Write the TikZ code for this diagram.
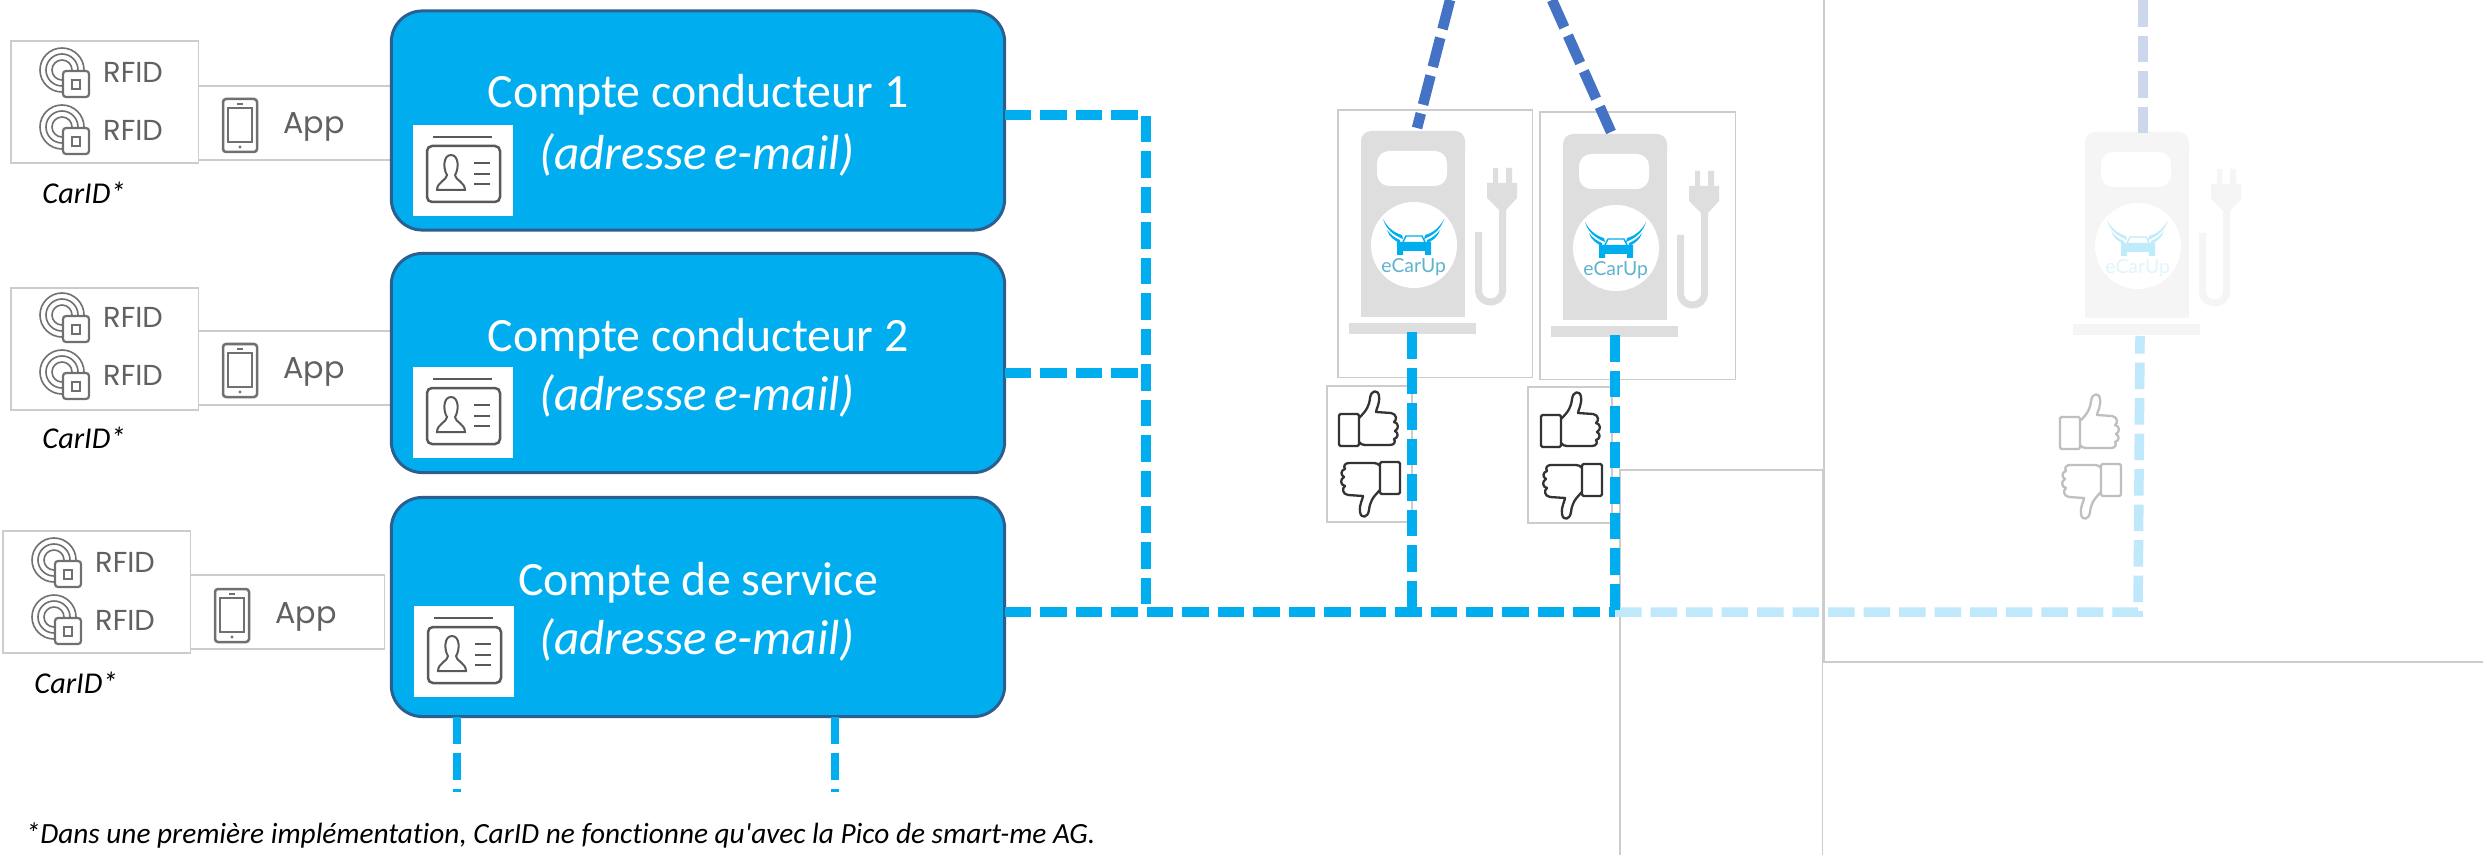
\documentclass[tikz,border=0pt]{standalone}
\usepackage{fontspec}
\setmainfont{Carlito}
\newfontfamily\calfont{Carlito}[Ligatures=NoCommon]
\newfontfamily\iconfont{Poppins}
\newfontfamily\logofont{Lato}
\definecolor{acct}{HTML}{00AEEF}
\definecolor{acctedge}{HTML}{2C5F8F}
\definecolor{framegray}{HTML}{CCCCCC}
\definecolor{linelight}{HTML}{BFE8FB}
\definecolor{dark}{HTML}{4472C4}
\definecolor{darklight}{HTML}{CCD7EE}
\definecolor{icongray}{HTML}{707070}
\definecolor{logoteal}{HTML}{5FB3CE}
\colorlet{chgbody}{black!13}
\colorlet{chgcar}{acct}
\colorlet{chgtext}{logoteal}
\colorlet{chgface}{white}
\colorlet{thumbcol}{black!80}
\tikzset{
  acctbox/.style={draw=acctedge,line width=.03cm,fill=acct,rounded corners=.31cm,minimum width=6.13cm,minimum height=2.19cm,inner sep=0pt,outer sep=0pt},
  frameb/.style={draw=framegray,line width=.012cm,fill=white,anchor=north west,inner sep=0pt,outer sep=0pt},
  acctname/.style={text=white,font=\calfont\fontsize{13.6}{16}\selectfont,inner sep=0pt},
  acctmail/.style={text=white,font=\calfont\fontsize{14}{16}\selectfont\itshape,inner sep=0pt},
  carid/.style={font=\calfont\fontsize{8.6}{10}\selectfont\itshape,text=black,inner sep=0pt},
  icontext/.style={font=\iconfont\fontsize{8.2}{9}\selectfont,text=black!62,inner sep=0pt},
  dashA/.style={line width=.095cm,dash pattern=on .265cm off .09cm},
  cardwhite/.style={fill=white,draw=none,anchor=north west,minimum width=1.0cm,minimum height=.91cm,inner sep=0pt,outer sep=0pt},
  rfidicon/.pic={
    \draw[icongray,line width=.016cm] (22,22) circle[radius=22] (22,22) circle[radius=16] (22,22) circle[radius=10];
    \draw[icongray,line width=.022cm,fill=white,rounded corners=.03cm] (23,23) rectangle (49,49);
    \draw[icongray,line width=.022cm] (32,32) rectangle (40,41);
  },
  phoneicon/.pic={
    \draw[icongray,line width=.025cm,rounded corners=.03cm] (0,0) rectangle (34,53);
    \draw[icongray,line width=.02cm] (5,9) rectangle (29,43);
    \draw[icongray,line width=.02cm] (14,5) -- (20,5);
    \fill[icongray] (17,48) circle[radius=1.6];
  },
  cardicon/.pic={
    \draw[black!65,line width=.02cm] (20,12) -- (79,12);
    \draw[black!65,line width=.025cm,rounded corners=.05cm] (14,21) rectangle (87,77);
    \draw[black!65,line width=.02cm] (38,30) .. controls (30,30) and (30,44) .. (34,50) .. controls (34,55) and (24,57) .. (24,65) -- (52,65) .. controls (52,57) and (42,55) .. (42,50) .. controls (46,44) and (46,30) .. (38,30) -- cycle;
    \draw[black!65,line width=.02cm] (61,38) -- (77,38) (61,49) -- (77,49) (61,59) -- (77,59);
  },
  chargericon/.pic={
    \fill[chgbody,rounded corners=.1cm] (0,30) -- (0,0) -- (104,0) -- (104,30) -- cycle;
    \fill[chgbody] (0,15) rectangle (104,186);
    \fill[chgbody] (-12,192) rectangle (115,203.5);
    \fill[chgface,rounded corners=.12cm] (16,20) rectangle (86,55);
    \fill[chgface] (53,114) circle[radius=43];
    \fill[chgbody] (132,37) rectangle (137,52) (145,37) rectangle (151,52);
    \fill[chgbody] (126,52) -- (156,52) -- (156,67) -- (145,79) -- (138,79) -- (126,67) -- cycle;
    \draw[chgbody,line width=.07cm] (141.5,79) -- (141.5,159) .. controls (141.5,175) and (117.5,175) .. (117.5,159) -- (117.5,101);
    % wings and car of the logo
    \fill[chgcar] (22,88) .. controls (25,98) and (32,104) .. (42,108) -- (41,104) .. controls (33,102) and (26,96) .. (22,88) -- cycle;
    \fill[chgcar] (26,99) .. controls (28,106) and (34,110) .. (39,112) -- (39,109) .. controls (34,107) and (30,104) .. (26,99) -- cycle;
    \fill[chgcar] (83,88) .. controls (80,98) and (73,104) .. (63,108) -- (64,104) .. controls (72,102) and (79,96) .. (83,88) -- cycle;
    \fill[chgcar] (79,99) .. controls (77,106) and (71,110) .. (66,112) -- (66,109) .. controls (71,107) and (75,104) .. (79,99) -- cycle;
    \draw[chgcar,line width=.014cm] (42,111) -- (45,105) -- (61,105) -- (64,111);
    \fill[chgcar] (36,111) -- (70,111) -- (70,124) -- (64,124) -- (64,120) -- (42,120) -- (42,124) -- (36,124) -- cycle;
    \node[text=chgtext,font=\logofont\fontsize{5.5}{7}\selectfont,inner sep=0pt] at (52.6,136) {eCarUp};
  },
  thumbup/.pic={
    \draw[thumbcol,line width=.023cm,rounded corners=.015cm] (0,0) rectangle (20,32);
    \draw[thumbcol,line width=.023cm,line join=round] (20,4) .. controls (28,-4) and (30,-8) .. (31,-16) .. controls (32,-24) and (39,-25) .. (40,-18) .. controls (41,-10) and (37,-5) .. (37,-2) -- (52,-1) .. controls (58,0) and (58,6) .. (55,8) .. controls (60,9) and (60,15) .. (56,17) .. controls (60,19) and (59,24) .. (55,25) .. controls (57,28) and (55,31) .. (51,31) -- (26,31) .. controls (24,31) and (21,30) .. (20,28);
  },
  thumbdown/.pic={
    \draw[thumbcol,line width=.023cm,rounded corners=.015cm] (0,0) rectangle (-20,-32);
    \draw[thumbcol,line width=.023cm,line join=round] (-20,-4) .. controls (-28,4) and (-30,8) .. (-31,16) .. controls (-32,24) and (-39,25) .. (-40,18) .. controls (-41,10) and (-37,5) .. (-37,2) -- (-52,1) .. controls (-58,0) and (-58,-6) .. (-55,-8) .. controls (-60,-9) and (-60,-15) .. (-56,-17) .. controls (-60,-19) and (-59,-24) .. (-55,-25) .. controls (-57,-28) and (-55,-31) .. (-51,-31) -- (-26,-31) .. controls (-24,-31) and (-21,-30) .. (-20,-28);
  },
}
\newcommand{\mailtext}{(adresse\hspace{.15em}e-mail)}
\begin{document}
\begin{tikzpicture}[x=.01cm,y=-.01cm]
\useasboundingbox[fill=white] (0,0) rectangle (2483,855);

% pale panels
\coordinate (pTop) at (1824,0);
\coordinate (pCorner) at (1824,662);
\coordinate (pRight) at (2483,662);
\draw[framegray,line width=.012cm] (pTop) -- (pCorner) -- (pRight);

% --- driver blocks
\node[frameb,minimum width=2.01cm,minimum height=.74cm] (app1) at (190,86) {};
\node[frameb,minimum width=1.87cm,minimum height=1.22cm] (rf1) at (11,41) {};
\node[frameb,minimum width=2.01cm,minimum height=.74cm] (app2) at (190,331) {};
\node[frameb,minimum width=1.87cm,minimum height=1.22cm] (rf2) at (11,288) {};
\node[frameb,minimum width=1.94cm,minimum height=.74cm] (app3) at (190,575) {};
\node[frameb,minimum width=1.87cm,minimum height=1.22cm] (rf3) at (3,531) {};

\foreach \dx/\dy/\n in {0/0/a,0/245/b,-8/490/c}{
  \begin{scope}[shift={(\dx,\dy)}]
    \pic at (40,48) {rfidicon};
    \pic at (40,105) {rfidicon};
    \pic at (223,99) {phoneicon};
    \node[icontext] (rfidtop\n) at (133,72) {RFID};
    \node[icontext] (rfidbot\n) at (133,130) {RFID};
    \node[icontext,font=\iconfont\fontsize{8.6}{10}\selectfont] (apptxt\n) at (314,127) {App};
    \node[carid] (carid\n) at (84,193) {CarID*};
  \end{scope}
}

% --- accounts
\node[acctbox] (box1) at (698,120.5) {};
\node[acctbox] (box2) at (698,363) {};
\node[acctbox] (box3) at (698,607) {};
\node[acctname] (t1) at (698,95) {Compte conducteur 1};
\node[acctmail] (m1) at (697,155) {\mailtext};
\node[acctname] (t2) at (698,339) {Compte conducteur 2};
\node[acctmail] (m2) at (697,396) {\mailtext};
\node[acctname] (t3) at (698,583) {Compte de service};
\node[acctmail] (m3) at (697,640) {\mailtext};
\node[cardwhite] (card1) at (413,125) {};
\node[cardwhite] (card2) at (413,367) {};
\node[cardwhite] (card3) at (414,606) {};
\pic at (card1.north west) {cardicon};
\pic at (card2.north west) {cardicon};
\pic at (card3.north west) {cardicon};

% --- chargers
\node[frameb,minimum width=1.945cm,minimum height=2.67cm] (chgA) at (1338,110) {};
\node[frameb,minimum width=1.95cm,minimum height=2.67cm] (chgB) at (1540,112) {};
\node[frameb,minimum width=.85cm,minimum height=1.36cm] (thA) at (1327,386) {};
\node[frameb,minimum width=.84cm,minimum height=1.36cm] (thB) at (1528,387) {};
\pic at (1361,131) {chargericon};
\pic at (1563,134) {chargericon};
\pic at (1339,414) {thumbup};
\pic at (1400,494) {thumbdown};
\pic at (1541,415) {thumbup};
\pic at (1602,496) {thumbdown};

% pale charger
\begin{scope}
  \colorlet{chgbody}{black!4}
  \colorlet{chgcar}{acct!25}
  \colorlet{chgtext}{acct!12}
  \colorlet{thumbcol}{black!25}
  \pic at (2085,132) {chargericon};
  \pic at (2060,417) {thumbup};
  \pic at (2121,496) {thumbdown};
\end{scope}

% white panel below
\node[frameb,minimum width=2.025cm,minimum height=3.95cm] (panel) at (1620,470) {};

% --- connectors
\coordinate (j1) at (1146,115);
\coordinate (j2) at (1146,373);
\coordinate (j3) at (1146,612);
\coordinate (jA) at (1412,612);
\coordinate (jB) at (1615,612);
\coordinate (jC) at (2138,612);
\coordinate (up1) at (1450,0);
\coordinate (up2) at (1552,0);
\coordinate (up3) at (2143,0);
\coordinate (s1) at (457,792);
\coordinate (s2) at (835,792);

\draw[acct,dashA] (box1.east |- j1) -- (j1) -- (j3);
\draw[acct,dashA] (box2.east |- j2) -- (j2);
\draw[linelight,dashA] (jB) -- (jC) -- (2140,336);
\draw[acct,dashA] (box3.east |- j3) -- (jB);
\draw[acct,dashA] (1412,332) -- (jA);
\draw[acct,dashA] (1615,335) -- (jB);
\draw[dark,line width=.105cm,dash pattern=on .3cm off .09cm] (up1) -- (1417,128);
\draw[dark,line width=.105cm,dash pattern=on .3cm off .09cm] (up2) -- (1611,132);
\draw[darklight,dashA] (up3) -- (2143,134);
\draw[acct,line width=.08cm,dash pattern=on .27cm off .09cm] (s1 |- box3.south) -- (s1);
\draw[acct,line width=.08cm,dash pattern=on .27cm off .09cm] (s2 |- box3.south) -- (s2);

\node[font=\calfont\fontsize{8.33}{10}\selectfont\itshape,text=black,inner sep=0pt,anchor=west] (foot) at (25,835) {*Dans une première implémentation, CarID ne fonctionne qu'avec la Pico de smart-me AG.};
\end{tikzpicture}
\end{document}
